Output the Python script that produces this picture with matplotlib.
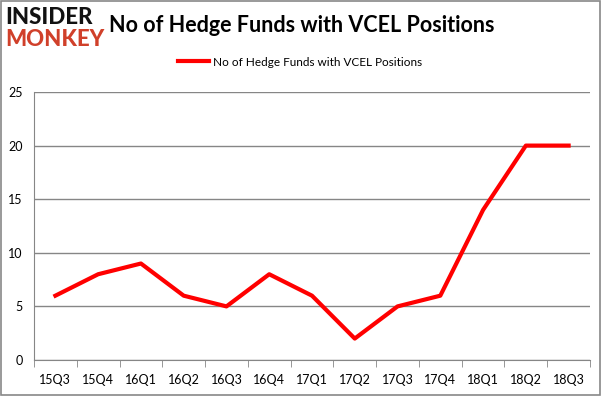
import matplotlib
matplotlib.use("Agg")
import matplotlib.pyplot as plt
from matplotlib.lines import Line2D

quarters = ["15Q3", "15Q4", "16Q1", "16Q2", "16Q3", "16Q4", "17Q1",
            "17Q2", "17Q3", "17Q4", "18Q1", "18Q2", "18Q3"]
funds = [6, 8, 9, 6, 5, 8, 6, 2, 5, 6, 14, 20, 20]
y_ticks = [0, 5, 10, 15, 20, 25]

plt.rcParams['font.family'] = ['Lato', 'DejaVu Sans']

fig = plt.figure(figsize=(6.01, 3.96), dpi=100)
ax = fig.add_axes([34 / 601, 36 / 396, 556 / 601, 268 / 396])

x = list(range(len(quarters)))
ax.plot(x, funds, color="#ff0000", linewidth=3)

ax.set_xlim(-0.5, len(quarters) - 0.5)
ax.set_ylim(0, 25)
ax.set_yticks(y_ticks)
ax.yaxis.grid(True, color="#868686", linewidth=1)
ax.set_axisbelow(True)
ax.tick_params(axis="y", length=0, labelsize=9, pad=8)

# labels centered on categories, tick marks between them
ax.set_xticks(x)
ax.set_xticklabels(quarters, fontsize=9)
ax.tick_params(axis="x", which="major", length=0, pad=10)
ax.set_xticks([i - 0.5 for i in range(len(quarters) + 1)], minor=True)
ax.tick_params(axis="x", which="minor", length=5, color="#868686")

for side in ["top", "right"]:
    ax.spines[side].set_visible(False)
for side in ["left", "bottom"]:
    ax.spines[side].set_color("#868686")

fig.text(302 / 601, 1 - 26 / 396, "No of Hedge Funds with VCEL Positions",
         ha="center", va="center", fontsize=15.5, fontweight="bold")

handle = Line2D([], [], color="#ff0000", linewidth=3)
fig.legend([handle], ["No of Hedge Funds with VCEL Positions"],
           loc="center", bbox_to_anchor=(300 / 601, 1 - 62 / 396),
           frameon=False, fontsize=8.5, handlelength=2.6, handletextpad=0.3)

# logo
fig.text(5 / 601, 1 - 18 / 396, "INSIDER", ha="left", va="center",
         fontsize=16, fontweight="black", color="#111111")
fig.text(5 / 601, 1 - 39 / 396, "MONKEY", ha="left", va="center",
         fontsize=16, fontweight="black", color="#d0402a")

fig.patches.append(plt.Rectangle((0.001, 0.002), 0.997, 0.996, transform=fig.transFigure,
                                 fill=False, edgecolor="#888888", linewidth=1.2))

fig.savefig("out.png", dpi=100)
